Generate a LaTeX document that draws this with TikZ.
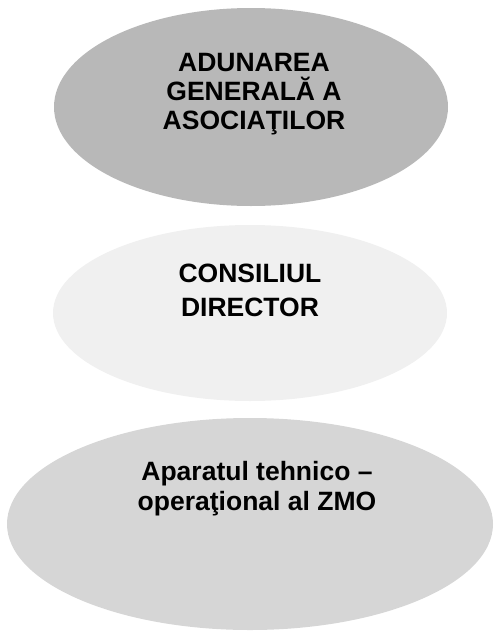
\documentclass[tikz,border=0pt]{standalone}
\usepackage{fontspec}
\setmainfont{Liberation Sans}
\usetikzlibrary{shapes.geometric}
\definecolor{GrayDark}{gray}{0.72}
\definecolor{GrayLight}{gray}{0.94}
\definecolor{GrayMid}{gray}{0.84}

\begin{document}
\begin{tikzpicture}[x=1pt, y=-1pt,
    organ/.style={ellipse, inner sep=0pt},
    organtext/.style={align=center, inner sep=0pt,
        font=\bfseries\fontsize{26.5}{29}\selectfont}]
    \useasboundingbox (0,0) rectangle (494,632);
    %%Adunarea generala
    \node[organ, fill=GrayDark, minimum width=394pt, minimum height=198pt] (adunare) at (251,107) {};
    \node[organtext] (adunaretext) at (254,94.5) {ADUNAREA\\GENERALĂ A\\ASOCIAŢILOR};
    %%Consiliul director
    \node[organ, fill=GrayLight, minimum width=394pt, minimum height=176pt] (consiliu) at (250,313) {};
    \node[organtext, font=\bfseries\fontsize{26.5}{34}\selectfont] (consiliutext) at (250,290.5) {CONSILIUL\\DIRECTOR};
    %%Aparatul tehnic
    \node[organ, fill=GrayMid, minimum width=486pt, minimum height=212pt] (aparat) at (250,524) {};
    \node[organtext, font=\bfseries\fontsize{26.5}{30}\selectfont] (aparattext) at (257,488.5) {Aparatul tehnico –\\operaţional al ZMO};
\end{tikzpicture}
\end{document}
